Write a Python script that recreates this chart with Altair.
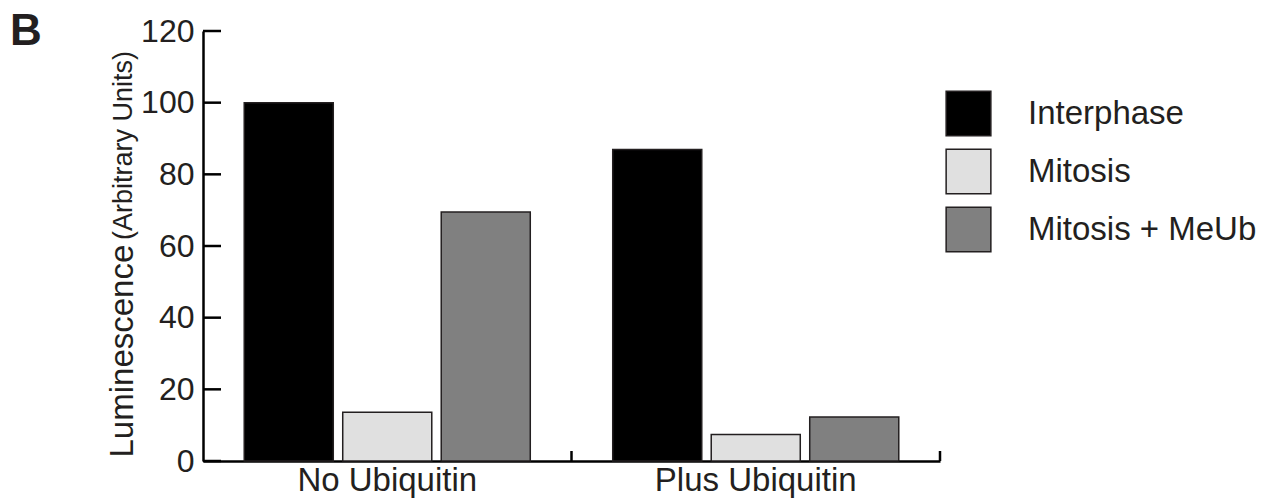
import altair as alt
import pandas as pd

groups = ["No Ubiquitin", "Plus Ubiquitin"]
series = ["Interphase", "Mitosis", "Mitosis + MeUb"]
values_no_ub = [100, 13.6, 69.5]
values_plus_ub = [86.9, 7.4, 12.3]
y_ticks = [0, 20, 40, 60, 80, 100, 120]
colors = ["#000000", "#e0e0e0", "#808080"]

rows = []
for s, v in zip(series, values_no_ub):
    rows.append({"group": groups[0], "series": s, "value": v})
for s, v in zip(series, values_plus_ub):
    rows.append({"group": groups[1], "series": s, "value": v})
df = pd.DataFrame(rows)
df_ticks = pd.DataFrame({"v": y_ticks})
df_groups = pd.DataFrame({"group": groups})

FONT = "Liberation Sans"
TXT = "#231f20"
W, H = 737, 430

x_scale = alt.Scale(domain=groups, paddingInner=0, paddingOuter=0)
y_scale = alt.Scale(domain=[0, 120], nice=False)

bars = alt.Chart(df).mark_bar(stroke=TXT, strokeWidth=1.5).encode(
    x=alt.X("group:N", scale=x_scale, sort=groups,
            axis=alt.Axis(title=None, ticks=False, labelAngle=0, labelFontSize=33,
                          labelPadding=3, labelColor=TXT, labelFont=FONT, labelLimit=500,
                          domainColor="#000000", domainWidth=2.5)),
    xOffset=alt.XOffset("series:N", sort=series,
                        scale=alt.Scale(domain=series, paddingInner=0.096, paddingOuter=0.4185)),
    y=alt.Y("value:Q", scale=y_scale,
            axis=alt.Axis(values=y_ticks, ticks=False, grid=False, labelFontSize=32,
                          labelPadding=9, labelColor=TXT, labelFont=FONT,
                          domainColor="#000000", domainWidth=2.5,
                          title="Luminescence", titleFontSize=33, titleFont=FONT,
                          titleFontWeight="normal", titleColor=TXT, titleAngle=270,
                          titleAlign="left", titleBaseline="alphabetic",
                          titleX=-71, titleY=426)),
    color=alt.Color("series:N", sort=series,
                    scale=alt.Scale(domain=series, range=colors),
                    legend=alt.Legend(title=None, orient="none", legendX=742, legendY=59,
                                      symbolType="square", symbolSize=2000,
                                      symbolStrokeColor=TXT, symbolStrokeWidth=1.5,
                                      labelFontSize=33, labelFont=FONT, labelColor=TXT,
                                      labelOffset=36, rowPadding=7, labelLimit=400)),
)

ytick_rules = alt.Chart(df_ticks).mark_rule(color="#000000", strokeWidth=2.5).encode(
    y=alt.Y("v:Q", scale=y_scale),
    x=alt.value(0),
    x2=alt.value(18),
)

xtick_rules = alt.Chart(df_groups).mark_rule(color="#000000", strokeWidth=2.5).encode(
    x=alt.X("group:N", scale=x_scale, sort=groups, bandPosition=1),
    y=alt.value(H - 10),
    y2=alt.value(H),
)

sub_title = alt.Chart(df_groups.head(1)).mark_text(
    text="(Arbitrary Units)", angle=270, align="left", baseline="alphabetic",
    fontSize=27, font=FONT, color=TXT,
).encode(x=alt.value(-71), y=alt.value(209))

panel_label = alt.Chart(df_groups.head(1)).mark_text(
    text="B", align="left", baseline="alphabetic",
    fontSize=44, fontWeight="bold", font=FONT, color=TXT,
).encode(x=alt.value(-193), y=alt.value(14))

chart = alt.layer(bars, ytick_rules, xtick_rules, sub_title, panel_label).properties(
    width=W, height=H,
    autosize=alt.AutoSizeParams(type="none"),
    padding={"left": 195, "top": 23, "right": 320, "bottom": 37},
).configure_view(stroke=None)

chart.save("out.html", embed_options={"renderer": "svg", "actions": False})
